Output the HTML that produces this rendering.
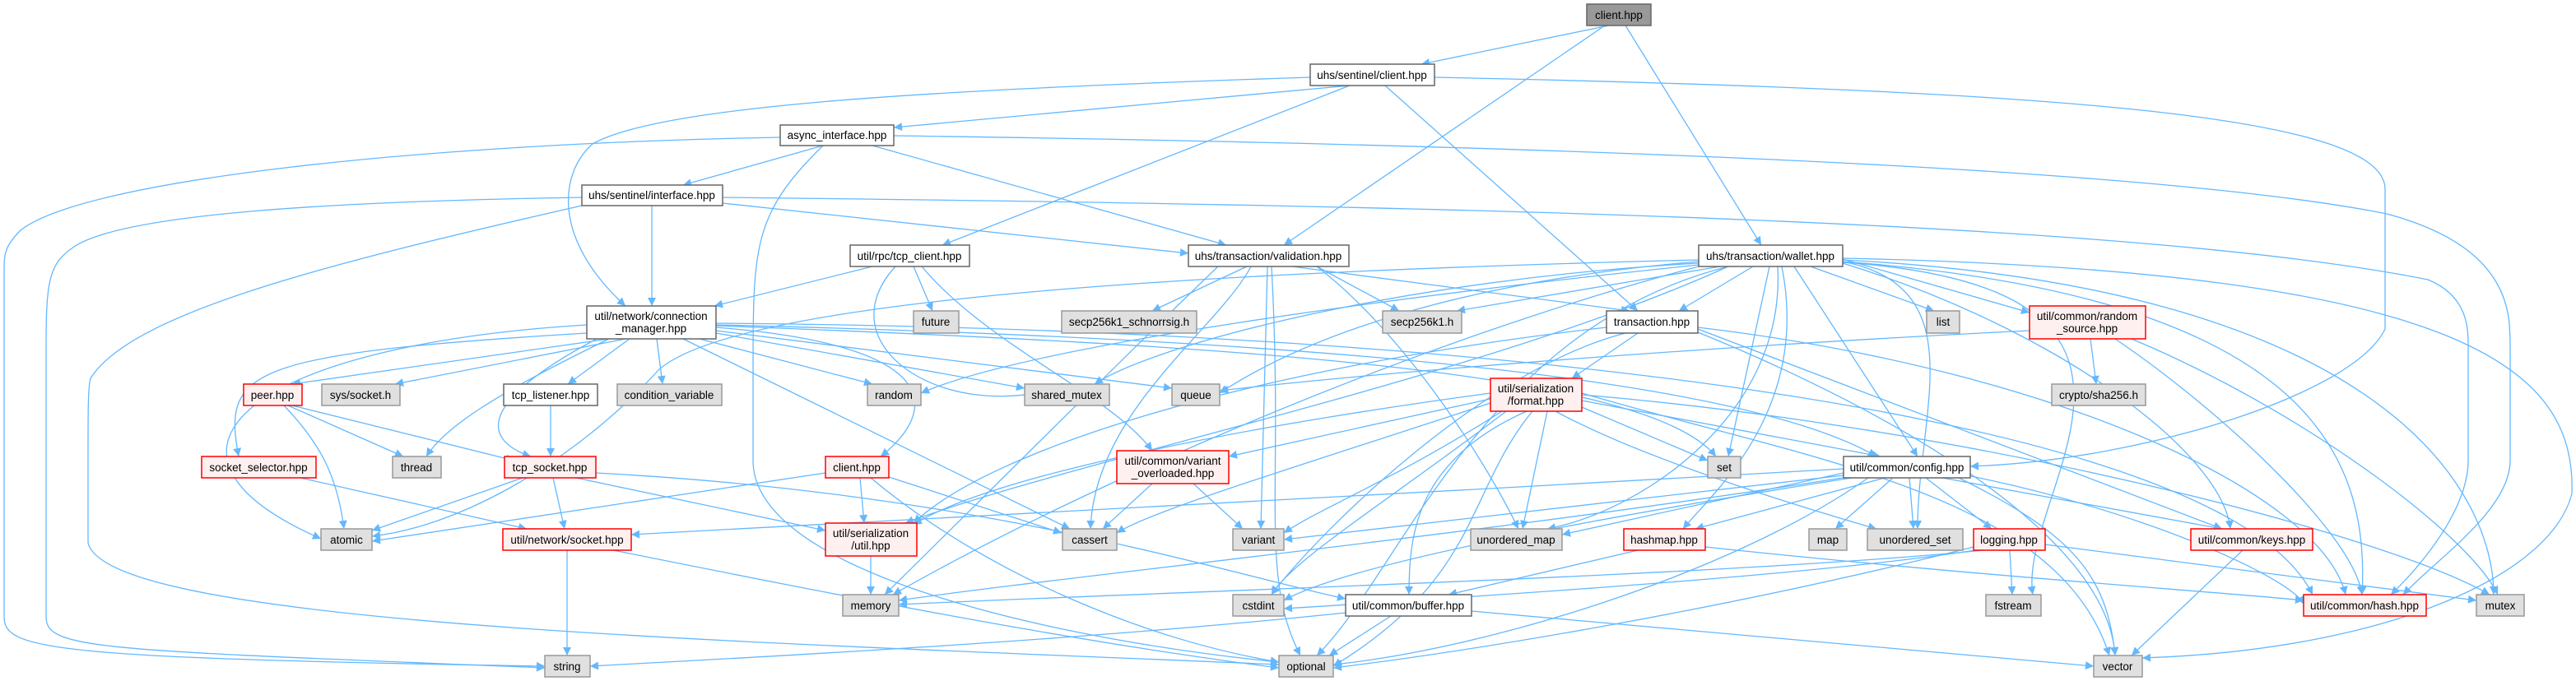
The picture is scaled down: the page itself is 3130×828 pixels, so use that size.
<!DOCTYPE html>
<html><head><meta charset="utf-8"><style>
html,body{margin:0;padding:0;background:#fff;}
svg{display:block;}
text{font-family:"Liberation Sans",sans-serif;font-size:13.5px;fill:#000;text-anchor:middle;}
.e{fill:none;stroke:#63b8ff;stroke-width:1.3;marker-end:url(#ah);}
.w{fill:#fff;stroke:#666;stroke-width:1.5;}
.g{fill:#e0e0e0;stroke:#999;stroke-width:1.5;}
.r{fill:#fff0f0;stroke:#f00;stroke-width:1.5;}
.k{fill:#999;stroke:#666;stroke-width:1.5;}
</style></head><body>
<svg width="3130" height="828" viewBox="0 0 3130 828" xmlns="http://www.w3.org/2000/svg">
<defs><marker id="ah" viewBox="0 0 10 10" refX="10" refY="5" markerWidth="12" markerHeight="10" markerUnits="userSpaceOnUse" orient="auto"><path d="M0,0 L10,5 L0,10 z" fill="#63b8ff"/></marker></defs>
<g>
<path class="e" d="M1955,31 L1727,78"/>
<path class="e" d="M1950,31 L1560,298"/>
<path class="e" d="M1975,31 L2140,298"/>
<path class="e" d="M1640,104 L1086,155"/>
<path class="e" d="M1640,104 L1145,298"/>
<path class="e" d="M1592,94 C1100,110 800,130 720,175 C680,210 670,290 760,372"/>
<path class="e" d="M1683,104 L1990,378"/>
<path class="e" d="M1743,94 C2500,110 2898,140 2898,230 L2898,400 C2860,480 2600,560 2394,567"/>
<path class="e" d="M1000,177 L830,225"/>
<path class="e" d="M1060,177 L1490,298"/>
<path class="e" d="M1000,177 C915,260 915,300 915,450 L915,560 C915,700 1300,780 1554,805"/>
<path class="e" d="M1086,165 C1800,175 2600,200 2900,260 C3050,300 3050,380 3050,420 L3050,560 C3050,620 2960,680 2920,723"/>
<path class="e" d="M792,250 L792,372"/>
<path class="e" d="M878,247 L1444,308"/>
<path class="e" d="M948,167 C500,175 100,220 25,280 C5,300 5,310 5,330 L5,750 C5,790 60,800 662,810"/>
<path class="e" d="M707,240 C400,245 150,260 90,300 C60,320 56,340 56,420 L56,750 C56,790 120,790 662,812"/>
<path class="e" d="M707,250 C400,320 160,380 110,460 C107,470 107,500 107,550 L107,660 C130,760 900,780 1554,808"/>
<path class="e" d="M878,240 C1800,250 2600,270 2950,340 C2999,360 2999,400 2999,420 L2999,560 C2999,620 2940,690 2905,723"/>
<path class="e" d="M1060,324 L868,372"/>
<path class="e" d="M1110,324 L1133,378"/>
<path class="e" d="M1120,324 C1200,420 1350,480 1400,548"/>
<path class="e" d="M1088,324 C1000,420 1150,520 1300,467"/>
<path class="e" d="M1570,324 L1980,378"/>
<path class="e" d="M1515,324 L1400,378"/>
<path class="e" d="M1600,324 L1700,378"/>
<path class="e" d="M1540,324 L1532,643"/>
<path class="e" d="M1545,324 C1560,600 1530,700 1580,797"/>
<path class="e" d="M1480,324 C1400,400 1200,600 1075,723"/>
<path class="e" d="M1520,324 C1480,400 1330,500 1325,643"/>
<path class="e" d="M1600,324 C1700,400 1800,550 1845,643"/>
<path class="e" d="M2130,324 L2040,378"/>
<path class="e" d="M2090,324 L1770,378"/>
<path class="e" d="M2200,324 L2350,378"/>
<path class="e" d="M2239,315 L2466,380"/>
<path class="e" d="M2180,324 L2330,555"/>
<path class="e" d="M2150,324 L2100,555"/>
<path class="e" d="M2239,318 C2400,350 2330,500 2330,643"/>
<path class="e" d="M2160,324 C2170,500 2000,620 1880,643"/>
<path class="e" d="M2165,324 C2200,500 2080,600 2045,643"/>
<path class="e" d="M2239,320 C2500,400 2700,550 2710,643"/>
<path class="e" d="M2239,318 C2800,360 2880,550 2870,723"/>
<path class="e" d="M2239,316 C2900,350 3030,600 3030,723"/>
<path class="e" d="M2239,314 C3000,330 3130,450 3125,600 C3100,700 2900,790 2603,800"/>
<path class="e" d="M2239,319 C2700,350 2450,600 2470,723"/>
<path class="e" d="M2100,324 C1800,400 1700,700 1600,797"/>
<path class="e" d="M2064,318 C1800,340 1600,400 1482,478"/>
<path class="e" d="M2064,320 C1700,340 1400,420 1330,467"/>
<path class="e" d="M2064,322 C1700,360 1250,420 1119,478"/>
<path class="e" d="M2064,324 C1700,420 1300,600 1085,723"/>
<path class="e" d="M2064,316 C1500,330 900,360 800,450 C700,560 560,640 452,652"/>
<path class="e" d="M2100,324 C1800,460 1300,560 1100,636"/>
<path class="e" d="M740,412 L355,467"/>
<path class="e" d="M760,412 L480,467"/>
<path class="e" d="M765,412 L690,467"/>
<path class="e" d="M798,412 L805,467"/>
<path class="e" d="M850,412 L1060,467"/>
<path class="e" d="M870,405 L1245,472"/>
<path class="e" d="M870,402 L1424,472"/>
<path class="e" d="M725,412 C560,500 600,540 645,555"/>
<path class="e" d="M740,412 C600,480 540,520 518,555"/>
<path class="e" d="M713,405 C300,430 270,450 290,555"/>
<path class="e" d="M713,395 C300,420 150,550 390,655"/>
<path class="e" d="M830,412 L1300,643"/>
<path class="e" d="M870,395 C1500,410 2100,450 2280,555"/>
<path class="e" d="M870,398 C1150,420 1140,500 1070,555"/>
<path class="e" d="M870,393 C1800,400 2700,500 2810,723"/>
<path class="e" d="M870,396 C1500,420 2000,450 2085,555"/>
<path class="e" d="M350,493 L490,555"/>
<path class="e" d="M355,493 L625,560"/>
<path class="e" d="M345,493 C390,540 410,580 418,643"/>
<path class="e" d="M365,581 L640,643"/>
<path class="e" d="M669,493 L669,555"/>
<path class="e" d="M635,581 L452,645"/>
<path class="e" d="M672,581 L686,643"/>
<path class="e" d="M700,581 L1003,645"/>
<path class="e" d="M724,575 C1200,600 1500,700 1635,728"/>
<path class="e" d="M689,669 L689,797"/>
<path class="e" d="M745,669 C1000,720 1300,780 1554,812"/>
<path class="e" d="M1045,581 L1050,636"/>
<path class="e" d="M1080,580 L1290,648"/>
<path class="e" d="M1058,581 C1200,700 1400,780 1554,805"/>
<path class="e" d="M1003,575 L452,658"/>
<path class="e" d="M1058,676 L1058,723"/>
<path class="e" d="M1400,588 L1340,643"/>
<path class="e" d="M1450,588 L1510,643"/>
<path class="e" d="M1990,405 L1910,460"/>
<path class="e" d="M1975,405 C1800,450 1600,650 1545,723"/>
<path class="e" d="M2063,400 L2700,643"/>
<path class="e" d="M2063,398 C2500,450 2820,600 2850,723"/>
<path class="e" d="M2063,404 C2300,500 2560,650 2570,797"/>
<path class="e" d="M1952,398 C1500,450 1200,550 1110,636"/>
<path class="e" d="M1811,485 L1493,555"/>
<path class="e" d="M1922,495 L2075,560"/>
<path class="e" d="M1922,487 L2285,555"/>
<path class="e" d="M1880,500 L1850,643"/>
<path class="e" d="M1890,500 C2000,560 2200,620 2280,643"/>
<path class="e" d="M1855,500 C1720,560 1712,650 1712,723"/>
<path class="e" d="M1862,500 C1780,600 1800,700 1620,810"/>
<path class="e" d="M1830,500 C1700,600 1570,680 1545,723"/>
<path class="e" d="M1811,490 C1600,560 1400,620 1357,648"/>
<path class="e" d="M1825,500 C1700,580 1600,620 1560,648"/>
<path class="e" d="M1922,480 C2400,520 2900,650 3025,723"/>
<path class="e" d="M1922,478 C2200,560 2500,600 2563,797"/>
<path class="e" d="M1811,478 C1500,520 1200,580 1110,638"/>
<path class="e" d="M2540,412 L2547,467"/>
<path class="e" d="M2570,412 C2700,500 2860,650 2870,723"/>
<path class="e" d="M2590,412 C2800,500 3000,650 3035,723"/>
<path class="e" d="M2466,402 C2100,420 1700,450 1482,475"/>
<path class="e" d="M2240,575 L1898,650"/>
<path class="e" d="M2300,581 L2230,643"/>
<path class="e" d="M2320,581 L2325,643"/>
<path class="e" d="M2360,581 L2700,643"/>
<path class="e" d="M2340,581 L2420,643"/>
<path class="e" d="M2290,581 L2060,643"/>
<path class="e" d="M2240,578 L1560,656"/>
<path class="e" d="M2250,581 C2000,620 1650,680 1560,730"/>
<path class="e" d="M2240,570 C1700,600 1000,640 767,650"/>
<path class="e" d="M2270,581 C2100,700 1800,790 1620,808"/>
<path class="e" d="M2380,581 C2520,650 2560,700 2570,797"/>
<path class="e" d="M2390,578 C2600,620 2780,700 2800,735"/>
<path class="e" d="M2245,580 C1800,650 1300,700 1092,730"/>
<path class="e" d="M1990,669 L1760,723"/>
<path class="e" d="M2072,665 C2400,700 2700,720 2799,730"/>
<path class="e" d="M2442,669 L2445,723"/>
<path class="e" d="M2485,662 L3009,730"/>
<path class="e" d="M2410,669 C2100,700 1400,720 1092,735"/>
<path class="e" d="M2400,669 C2200,700 1800,725 1560,740"/>
<path class="e" d="M2398,665 C2100,740 1800,790 1620,812"/>
<path class="e" d="M2725,669 L2590,797"/>
<path class="e" d="M1690,749 L1615,797"/>
<path class="e" d="M1635,745 C1300,780 900,800 717,810"/>
<path class="e" d="M1788,743 L2544,810"/>
</g>
<g>
<rect class="k" x="1928" y="5" width="78" height="26"/><text x="1967" y="23">client.hpp</text>
<rect class="w" x="1592" y="78" width="151" height="26"/><text x="1667" y="96">uhs/sentinel/client.hpp</text>
<rect class="w" x="948" y="152" width="138" height="25"/><text x="1017" y="169">async_interface.hpp</text>
<rect class="w" x="707" y="225" width="171" height="25"/><text x="792" y="242">uhs/sentinel/interface.hpp</text>
<rect class="w" x="1033" y="298" width="145" height="26"/><text x="1105" y="316">util/rpc/tcp_client.hpp</text>
<rect class="w" x="1444" y="298" width="195" height="26"/><text x="1541" y="316">uhs/transaction/validation.hpp</text>
<rect class="w" x="2064" y="298" width="175" height="26"/><text x="2151" y="316">uhs/transaction/wallet.hpp</text>
<rect class="w" x="713" y="372" width="157" height="40"/><text x="791" y="389">util/network/connection</text><text x="791" y="404">_manager.hpp</text>
<rect class="g" x="1110" y="378" width="55" height="27"/><text x="1137" y="396">future</text>
<rect class="g" x="1290" y="378" width="164" height="27"/><text x="1372" y="396">secp256k1_schnorrsig.h</text>
<rect class="g" x="1680" y="378" width="96" height="27"/><text x="1728" y="396">secp256k1.h</text>
<rect class="w" x="1952" y="378" width="111" height="27"/><text x="2007" y="396">transaction.hpp</text>
<rect class="g" x="2341" y="378" width="40" height="27"/><text x="2361" y="396">list</text>
<rect class="r" x="2466" y="372" width="141" height="40"/><text x="2536" y="389">util/common/random</text><text x="2536" y="404">_source.hpp</text>
<rect class="r" x="296" y="467" width="71" height="26"/><text x="331" y="485">peer.hpp</text>
<rect class="g" x="391" y="467" width="95" height="26"/><text x="438" y="485">sys/socket.h</text>
<rect class="w" x="612" y="467" width="114" height="26"/><text x="669" y="485">tcp_listener.hpp</text>
<rect class="g" x="750" y="467" width="127" height="26"/><text x="813" y="485">condition_variable</text>
<rect class="g" x="1054" y="467" width="65" height="26"/><text x="1086" y="485">random</text>
<rect class="g" x="1245" y="467" width="103" height="26"/><text x="1296" y="485">shared_mutex</text>
<rect class="g" x="1424" y="467" width="58" height="26"/><text x="1453" y="485">queue</text>
<rect class="r" x="1811" y="460" width="111" height="40"/><text x="1866" y="477">util/serialization</text><text x="1866" y="492">/format.hpp</text>
<rect class="g" x="2493" y="467" width="114" height="26"/><text x="2550" y="485">crypto/sha256.h</text>
<rect class="r" x="245" y="555" width="139" height="26"/><text x="314" y="573">socket_selector.hpp</text>
<rect class="g" x="477" y="555" width="59" height="26"/><text x="506" y="573">thread</text>
<rect class="r" x="613" y="555" width="111" height="26"/><text x="668" y="573">tcp_socket.hpp</text>
<rect class="r" x="1003" y="555" width="77" height="26"/><text x="1041" y="573">client.hpp</text>
<rect class="r" x="1357" y="548" width="136" height="40"/><text x="1425" y="565">util/common/variant</text><text x="1425" y="580">_overloaded.hpp</text>
<rect class="g" x="2075" y="555" width="40" height="26"/><text x="2095" y="573">set</text>
<rect class="w" x="2240" y="555" width="154" height="26"/><text x="2317" y="573">util/common/config.hpp</text>
<rect class="g" x="390" y="643" width="62" height="26"/><text x="421" y="661">atomic</text>
<rect class="r" x="611" y="643" width="156" height="26"/><text x="689" y="661">util/network/socket.hpp</text>
<rect class="r" x="1003" y="636" width="111" height="40"/><text x="1058" y="653">util/serialization</text><text x="1058" y="668">/util.hpp</text>
<rect class="g" x="1291" y="643" width="66" height="26"/><text x="1324" y="661">cassert</text>
<rect class="g" x="1498" y="643" width="62" height="26"/><text x="1529" y="661">variant</text>
<rect class="g" x="1787" y="643" width="111" height="26"/><text x="1842" y="661">unordered_map</text>
<rect class="r" x="1973" y="643" width="99" height="26"/><text x="2022" y="661">hashmap.hpp</text>
<rect class="g" x="2198" y="643" width="46" height="26"/><text x="2221" y="661">map</text>
<rect class="g" x="2269" y="643" width="116" height="26"/><text x="2327" y="661">unordered_set</text>
<rect class="r" x="2398" y="643" width="87" height="26"/><text x="2441" y="661">logging.hpp</text>
<rect class="r" x="2662" y="643" width="148" height="26"/><text x="2736" y="661">util/common/keys.hpp</text>
<rect class="g" x="1024" y="723" width="68" height="26"/><text x="1058" y="741">memory</text>
<rect class="g" x="1498" y="723" width="62" height="26"/><text x="1529" y="741">cstdint</text>
<rect class="w" x="1635" y="723" width="153" height="26"/><text x="1711" y="741">util/common/buffer.hpp</text>
<rect class="g" x="2413" y="723" width="67" height="26"/><text x="2446" y="741">fstream</text>
<rect class="r" x="2799" y="723" width="149" height="26"/><text x="2873" y="741">util/common/hash.hpp</text>
<rect class="g" x="3009" y="723" width="58" height="26"/><text x="3038" y="741">mutex</text>
<rect class="g" x="662" y="797" width="55" height="26"/><text x="689" y="815">string</text>
<rect class="g" x="1554" y="797" width="66" height="26"/><text x="1587" y="815">optional</text>
<rect class="g" x="2544" y="797" width="59" height="26"/><text x="2573" y="815">vector</text>
</g>
</svg>
</body></html>
